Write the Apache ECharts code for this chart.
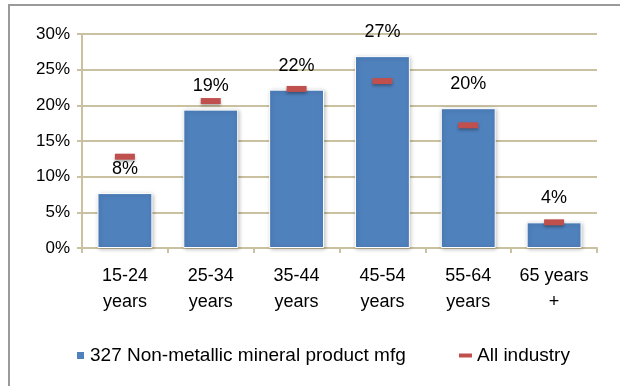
<!DOCTYPE html>
<html>
<head>
<meta charset="utf-8">
<script src="https://cdn.jsdelivr.net/npm/echarts@6/dist/echarts.min.js"></script>
<style>
  html, body { margin: 0; padding: 0; background: #fff; }
  #frame { position: absolute; left: 8px; top: 4px; width: 620px; height: 390px; border-left: 2px solid #9a9a9a; border-top: 2px solid #9a9a9a; }
  #chart { position: absolute; left: 0; top: 0; width: 620px; height: 386px; }
</style>
</head>
<body>
<div id="frame"></div>
<div id="chart"></div>
<script>
// Age groups on the category axis
const ageGroups = ['15-24\nyears', '25-34\nyears', '35-44\nyears', '45-54\nyears', '55-64\nyears', '65 years\n+'];
// Share of workers by age group (%)
const sectorShare = [7.7, 19.4, 22.2, 26.9, 19.6, 3.6];
const allIndustryShare = [12.8, 20.6, 22.3, 23.4, 17.2, 3.6];
const sectorName = '327 Non-metallic mineral product mfg';
const allIndustryName = 'All industry';

const FONT = 'Liberation Sans';
const AXIS_COLOR = '#c9c19f';

const chart = echarts.init(document.getElementById('chart'));
chart.setOption({
  animation: false,
  textStyle: { fontFamily: FONT },
  grid: { left: 82, right: 23, top: 34, bottom: 138 },
  xAxis: {
    type: 'category',
    data: ageGroups,
    axisLine: { lineStyle: { color: AXIS_COLOR, width: 2 } },
    axisTick: { show: true, length: 5, lineStyle: { color: AXIS_COLOR, width: 2 } },
    axisLabel: { interval: 0, hideOverlap: false, color: '#000', fontSize: 18, lineHeight: 26, margin: 15, fontFamily: FONT }
  },
  yAxis: {
    type: 'value',
    min: 0, max: 30, interval: 5,
    axisLine: { show: true, lineStyle: { color: AXIS_COLOR, width: 2 } },
    axisTick: { show: true, length: 5, lineStyle: { color: AXIS_COLOR, width: 2 } },
    splitLine: { lineStyle: { color: AXIS_COLOR, width: 2 } },
    axisLabel: { color: '#000', fontSize: 17, margin: 12, formatter: v => v + '%', fontFamily: FONT }
  },
  legend: [
    {
      data: [sectorName],
      left: 70, top: 341,
      itemWidth: 9, itemHeight: 9,
      icon: 'rect',
      textStyle: { color: '#000', fontSize: 19, fontFamily: FONT }
    },
    {
      data: [allIndustryName],
      left: 454, top: 341,
      itemWidth: 13, itemHeight: 4,
      icon: 'rect',
      textStyle: { color: '#000', fontSize: 19, fontFamily: FONT }
    }
  ],
  series: [
    {
      name: sectorName,
      type: 'bar',
      data: sectorShare,
      barWidth: '64%',
      itemStyle: {
        color: '#4f81bd',
        borderColor: '#ffffff', borderWidth: 1,
        shadowBlur: 4, shadowColor: 'rgba(0,0,0,0.25)', shadowOffsetX: 1, shadowOffsetY: 1
      },
      label: {
        show: true, position: 'top', distance: 15,
        color: '#000', fontSize: 18, fontFamily: FONT,
        formatter: p => Math.round(p.value) + '%'
      },
      z: 2
    },
    {
      name: allIndustryName,
      type: 'scatter',
      data: allIndustryShare,
      symbol: 'rect',
      symbolSize: [20, 6],
      itemStyle: {
        color: '#c0504d', opacity: 1,
        shadowBlur: 3, shadowColor: 'rgba(0,0,0,0.3)', shadowOffsetY: 2
      },
      z: 3
    }
  ]
});
</script>
</body>
</html>
